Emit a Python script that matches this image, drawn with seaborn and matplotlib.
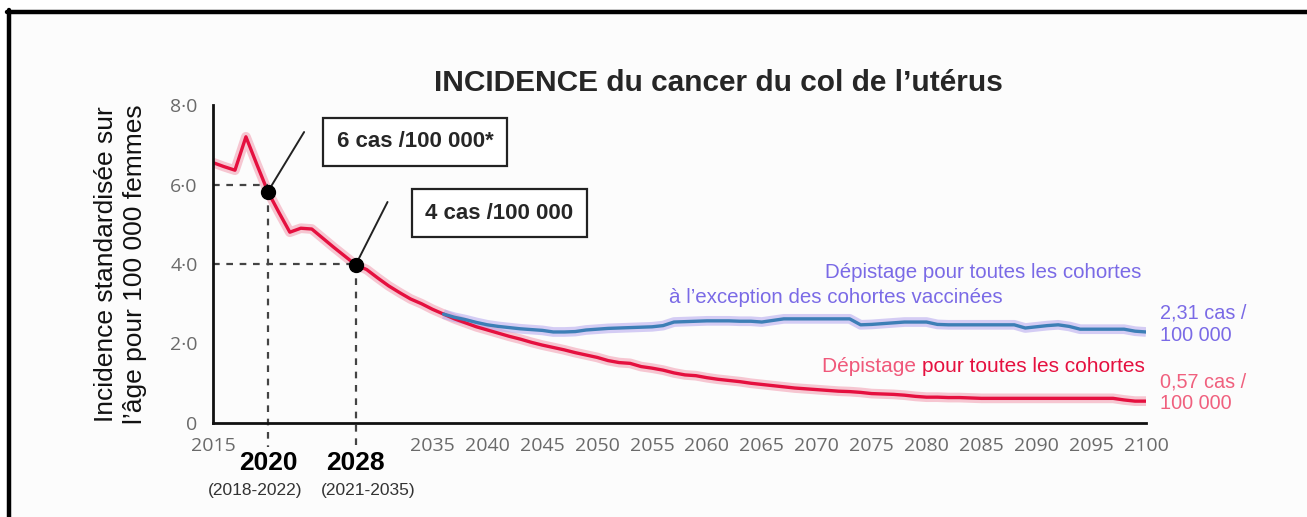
import matplotlib
matplotlib.use("Agg")
import matplotlib.pyplot as plt
import seaborn as sns
import pandas as pd
import numpy as np
from matplotlib.lines import Line2D
from matplotlib.patches import Rectangle

# --- data ---
years_red = list(range(2015, 2101))
incidence_red = [
    6.55, 6.45, 6.36, 7.20, 6.50, 5.82, 5.30, 4.80, 4.90, 4.88,   # 2015-2024
    4.65, 4.42, 4.20, 3.98, 3.86, 3.65, 3.45, 3.28, 3.12, 3.00,   # 2025-2034
    2.86, 2.74, 2.62, 2.52, 2.42, 2.34, 2.26, 2.18, 2.11, 2.03,   # 2035-2044
    1.96, 1.90, 1.84, 1.77, 1.71, 1.65, 1.57, 1.52, 1.50, 1.42,   # 2045-2054
    1.38, 1.33, 1.26, 1.21, 1.19, 1.14, 1.10, 1.07, 1.04, 1.00,   # 2055-2064
    0.97, 0.94, 0.91, 0.88, 0.86, 0.84, 0.82, 0.80, 0.79, 0.77,   # 2065-2074
    0.74, 0.73, 0.72, 0.70, 0.67, 0.65, 0.65, 0.64, 0.64, 0.63,   # 2075-2084
    0.62, 0.62, 0.62, 0.62, 0.62, 0.62, 0.62, 0.62, 0.62, 0.62,   # 2085-2094
    0.62, 0.62, 0.62, 0.58, 0.55, 0.55,                           # 2095-2100
]
years_blue = list(range(2036, 2101))
incidence_blue = [
    2.74, 2.66, 2.60, 2.53, 2.47, 2.43, 2.40, 2.37, 2.35, 2.33,   # 2036-2045
    2.29, 2.29, 2.30, 2.34, 2.36, 2.38, 2.39, 2.40, 2.41, 2.42,   # 2046-2055
    2.45, 2.54, 2.55, 2.56, 2.57, 2.57, 2.57, 2.56, 2.56, 2.54,   # 2056-2065
    2.58, 2.62, 2.62, 2.62, 2.62, 2.62, 2.62, 2.62, 2.47, 2.48,   # 2066-2075
    2.50, 2.52, 2.54, 2.54, 2.54, 2.48, 2.47, 2.47, 2.47, 2.47,   # 2076-2085
    2.47, 2.47, 2.47, 2.39, 2.42, 2.45, 2.47, 2.43, 2.36, 2.36,   # 2086-2095
    2.36, 2.36, 2.36, 2.31, 2.29,                                 # 2096-2100
]
milestone_years = [2020, 2028]
milestone_values = [5.82, 3.98]
milestone_levels = [6.0, 4.0]
milestone_ranges = ["(2018-2022)", "(2021-2035)"]
milestone_boxes = ["6 cas /100 000*", "4 cas /100 000"]
yticks = [0, 2, 4, 6, 8]
ytick_labels = ["0", "2·0", "4·0", "6·0", "8·0"]
xticks = [2015] + list(range(2035, 2101, 5))

df_red = pd.DataFrame({"year": years_red, "incidence": incidence_red})
df_blue = pd.DataFrame({"year": years_blue, "incidence": incidence_blue})

RED = "#e5103f"
RED_BAND = "#f29aae"
BLUE = "#3d7fb6"
BLUE_BAND = "#b4a6ee"
PURPLE = "#7a6ae6"
TICK_GREY = "#6a6a6a"

sns.set_style("white")
plt.rcParams["font.family"] = ["Liberation Sans", "DejaVu Sans"]

fig = plt.figure(figsize=(13.07, 5.17), dpi=100, facecolor="#fcfcfc")
ax = fig.add_axes([213 / 1307, 94 / 517, 933 / 1307, 318 / 517])
ax.set_facecolor("none")

# soft bands (same curve drawn wide and translucent)
sns.lineplot(data=df_red, x="year", y="incidence", ax=ax, color=RED_BAND,
             linewidth=7, alpha=0.55, solid_capstyle="butt")
sns.lineplot(data=df_blue, x="year", y="incidence", ax=ax, color=BLUE_BAND,
             linewidth=7, alpha=0.55, solid_capstyle="butt")
sns.lineplot(data=df_red, x="year", y="incidence", ax=ax, color=RED, linewidth=2.4)
sns.lineplot(data=df_blue, x="year", y="incidence", ax=ax, color=BLUE, linewidth=2.4)

ax.set_xlim(2015, 2100)
ax.set_ylim(0, 8)

# milestones
dash = dict(color="#444444", linewidth=1.6, linestyle=(0, (3, 3)))
for i, (yr, val, lvl, rng) in enumerate(zip(milestone_years, milestone_values,
                                             milestone_levels, milestone_ranges)):
    ax.plot([2015, yr], [lvl, lvl], **dash)
    ax.plot([yr, yr], [val, -0.6], clip_on=False, **dash)
    ax.plot(yr, val, "o", color="black", markersize=10, zorder=5)
    ax.text(yr, -1.0, str(yr), ha="center", va="center", fontsize=19, fontweight="bold",
            color="black", clip_on=False)
    shift = -9 if i == 0 else 9
    ax.annotate(rng, xy=(yr, -1.7), xytext=(shift, 0), textcoords="offset points",
                ha="center", va="center", fontsize=12.5, color="#333333",
                annotation_clip=False)

# callout boxes with their leader lines
box_style = dict(boxstyle="square,pad=0.6", fc="white", ec="#222222", lw=1.6)
ax.plot([milestone_years[0], 2023.3], [milestone_values[0], 7.32], color="#222222", lw=1.4)
ax.plot([milestone_years[1], 2030.9], [milestone_values[1], 5.56], color="#222222", lw=1.4)
ax.text(2033.4, 7.07, milestone_boxes[0], fontsize=16, fontweight="bold", ha="center",
        va="center", bbox=box_style)
ax.text(2041.1, 5.28, milestone_boxes[1], fontsize=16, fontweight="bold", ha="center",
        va="center", bbox=box_style)

# series labels
ax.text(2070.8, 3.79, "Dépistage pour toutes les cohortes", color=PURPLE, fontsize=14.8,
        ha="left", va="center")
ax.text(2056.5, 3.16, "à l\u2019exception des cohortes vaccinées", color=PURPLE, fontsize=14.8,
        ha="left", va="center")
t_red = ax.text(2099.9, 1.43, "pour toutes les cohortes", color=RED, fontsize=15,
                ha="right", va="center")
ax.annotate("Dépistage ", xy=(0, 0.5), xycoords=t_red, color="#f0587a", fontsize=15,
            ha="right", va="center")
ax.text(2101.3, 2.49, "2,31 cas /\n100 000", color=PURPLE, fontsize=14.3, ha="left",
        va="center", linespacing=1.2, clip_on=False)
ax.text(2101.3, 0.76, "0,57 cas /\n100 000", color="#f0607e", fontsize=14.3, ha="left",
        va="center", linespacing=1.2, clip_on=False)

# axes styling
for side in ["top", "right"]:
    ax.spines[side].set_visible(False)
for side in ["left", "bottom"]:
    ax.spines[side].set_color("#111111")
    ax.spines[side].set_linewidth(2)
ax.set_yticks(yticks)
ax.set_yticklabels(ytick_labels)
ax.set_xticks(xticks)
ax.set_xticklabels([str(x) for x in xticks])
ax.tick_params(axis="y", direction="out", length=9, width=2, color="#111111", pad=2,
               labelsize=14, labelcolor=TICK_GREY)
ax.tick_params(axis="x", direction="out", length=8, width=2, color="#111111", pad=2,
               labelsize=14, labelcolor=TICK_GREY)
for lbl in ax.get_xticklabels() + ax.get_yticklabels():
    lbl.set_family(["Open Sans", "DejaVu Sans"])

ax.set_xlabel("")
ax.set_ylabel("Incidence standardisée sur\nl\u2019âge pour 100 000 femmes", fontsize=19,
              linespacing=1.25, color="#111111")
ax.yaxis.set_label_coords(-0.071, 0.5)

ax.set_title("INCIDENCE du cancer du col de l\u2019utérus", fontsize=21.5, fontweight="bold",
             pad=10, x=0.542)

# outer frame as in the screenshot
fig.add_artist(Rectangle((0, 1 - 10 / 517), 1, 10 / 517, transform=fig.transFigure,
                         fc="white", ec="none", zorder=0))
fig.add_artist(Rectangle((0, 0), 7 / 1307, 1, transform=fig.transFigure,
                         fc="white", ec="none", zorder=0))
fig.add_artist(Line2D([7 / 1307, 1], [1 - 12 / 517, 1 - 12 / 517], transform=fig.transFigure,
                      color="black", linewidth=3.2))
fig.add_artist(Line2D([9 / 1307, 9 / 1307], [0, 1 - 10 / 517], transform=fig.transFigure,
                      color="black", linewidth=3.2))

fig.savefig("out.png", dpi=100, facecolor=fig.get_facecolor())
